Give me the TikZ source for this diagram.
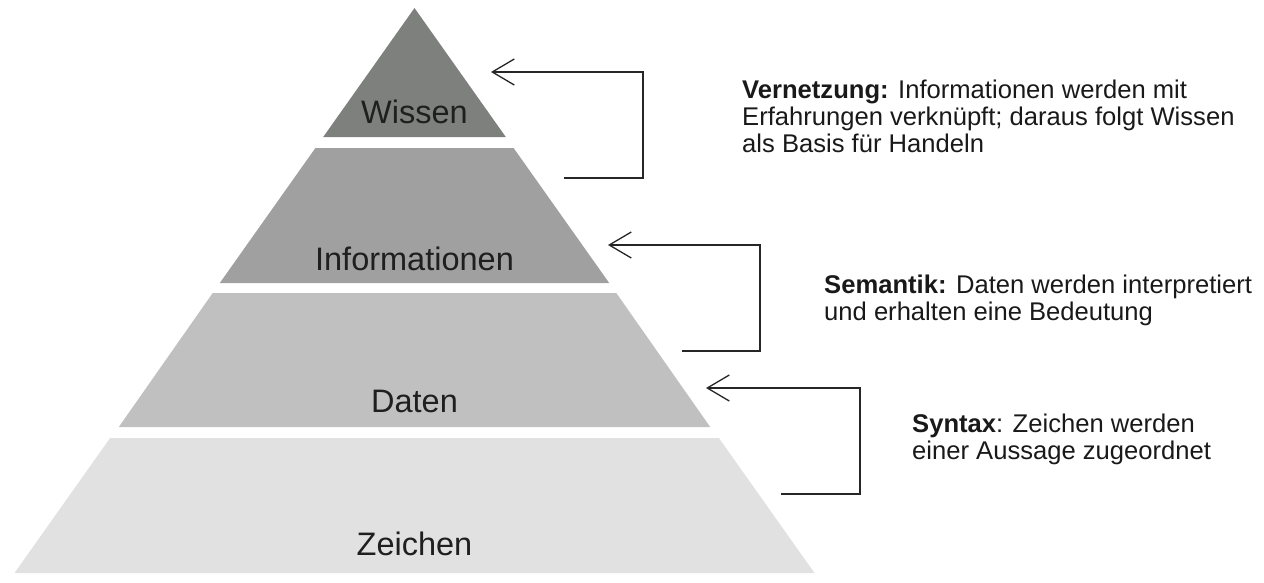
\documentclass[tikz,border=0pt]{standalone}
\usepackage{fontspec}
\setmainfont{Liberation Sans}
\usetikzlibrary{arrows.meta, positioning}
\definecolor{wissengrau}{HTML}{7E807E}
\definecolor{infograu}{HTML}{A0A0A0}
\definecolor{datengrau}{HTML}{C0C0C0}
\definecolor{zeichengrau}{HTML}{E1E1E1}

\begin{document}
\begin{tikzpicture}[x=1pt, y=-1pt,
        stufe/.style={font=\fontsize{32.5}{36}\selectfont, text=black!88, inner sep=0pt, anchor=base},
        erkl/.style={font=\fontsize{25.6}{27}\selectfont, text=black!90, align=left, inner sep=0pt, anchor=north west},
        pfeil/.style={-{Straight Barb[length=22pt, width=26pt]}, line width=1.3pt, draw=black!85}]
    \useasboundingbox (0,0) rectangle (1264,582);

    % Schichten der Pyramide
    \fill[wissengrau]  (414.5,8) -- (505.8,137) -- (323.2,137) -- cycle;
    \fill[infograu]    (315.4,148) -- (513.6,148) -- (609.2,283) -- (219.8,283) -- cycle;
    \fill[datengrau]   (212.7,293) -- (616.3,293) -- (710.2,427) -- (118.8,427) -- cycle;
    \fill[zeichengrau] (110.1,438) -- (718.9,438) -- (814.5,573) -- (14.5,573) -- cycle;

    \node[stufe] (wissen)  at (414.5,123) {Wissen};
    \node[stufe] (info)    at (414.5,270) {Informationen};
    \node[stufe] (daten)   at (414.5,412) {Daten};
    \node[stufe] (zeichen) at (414.5,555) {Zeichen};

    % Erklaerungen
    \node[erkl] (vernetzung) at (742,80) {\textbf{Vernetzung:} Informationen werden mit\\Erfahrungen verknüpft; daraus folgt Wissen\\als Basis für Handeln};
    \node[erkl] (semantik) at (824,275) {\textbf{Semantik:} Daten werden interpretiert\\und erhalten eine Bedeutung};
    \node[erkl] (syntax) at (912,414) {\textbf{Syntax}: Zeichen werden\\einer Aussage zugeordnet};

    % Pfeile
    \coordinate (w-spitze) at (491,72);
    \coordinate (w-ende) at (564,178);
    \coordinate (i-spitze) at (608,245);
    \coordinate (i-ende) at (682,351);
    \coordinate (d-spitze) at (706,388);
    \coordinate (d-ende) at (781,494);
    \draw[pfeil] (w-ende) -- ++(79,0) |- (w-spitze);
    \draw[pfeil] (i-ende) -- ++(78,0) |- (i-spitze);
    \draw[pfeil] (d-ende) -- ++(79,0) |- (d-spitze);
\end{tikzpicture}
\end{document}
